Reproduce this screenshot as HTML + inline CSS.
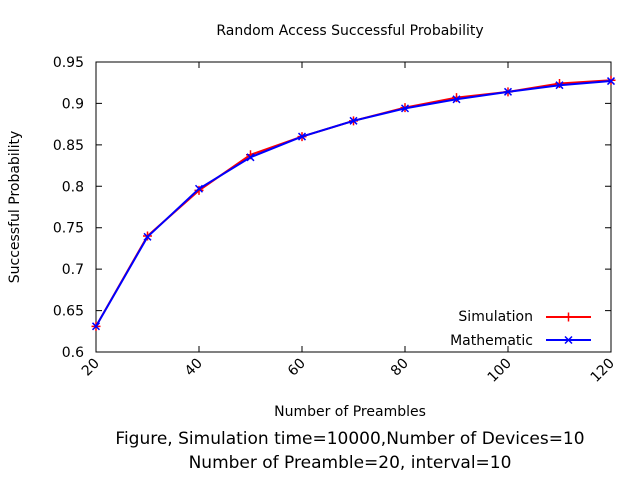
<!DOCTYPE html>
<html><head><meta charset="utf-8"><style>
body{margin:0;background:#fff;width:640px;height:480px;overflow:hidden}
text{font-family:"DejaVu Sans","Liberation Sans",sans-serif;fill:#000}
</style></head><body>
<svg id="chart" width="640" height="480" xmlns="http://www.w3.org/2000/svg">
<text x="350" y="35" font-size="14" text-anchor="middle">Random Access Successful Probability</text>
<rect x="96" y="62" width="515" height="290" fill="none" stroke="#000" stroke-width="1"/>
<g id="axes"></g>
<g id="series"></g>
<text x="350" y="416" font-size="14" text-anchor="middle">Number of Preambles</text>
<text transform="translate(19,207) rotate(-90)" font-size="14" text-anchor="middle">Successful Probability</text>
<text x="350" y="444" font-size="17" text-anchor="middle">Figure, Simulation time=10000,Number of Devices=10</text>
<text x="350" y="468" font-size="17" text-anchor="middle">Number of Preamble=20, interval=10</text>
<g>
<text x="533" y="321" font-size="14" text-anchor="end">Simulation</text>
<line x1="546" y1="317" x2="591" y2="317" stroke="#f00" stroke-width="2"/>
<path d="M564 317h9M568.5 312.5v9" stroke="#f00" stroke-width="1.5"/>
<text x="533" y="345" font-size="14" text-anchor="end">Mathematic</text>
<line x1="546" y1="340" x2="591" y2="340" stroke="#00f" stroke-width="2"/>
<path d="M565 336.5l7 7M572 336.5l-7 7" stroke="#00f" stroke-width="1.5"/>
</g>
</svg>
<script>
const categories=[20,30,40,50,60,70,80,90,100,110,120];
const simulation=[0.631,0.740,0.795,0.838,0.860,0.879,0.895,0.907,0.914,0.924,0.928];
const mathematic=[0.631,0.739,0.797,0.835,0.860,0.879,0.894,0.905,0.914,0.922,0.927];
const xTicks=[20,40,60,80,100,120];
const yTicks=[0.6,0.65,0.7,0.75,0.8,0.85,0.9,0.95];
const yLabels=["0.6","0.65","0.7","0.75","0.8","0.85","0.9","0.95"];
const NS="http://www.w3.org/2000/svg";
const X=v=>96+(v-20)/100*515;
const Y=v=>352-(v-0.6)/0.35*290;
const axes=document.getElementById('axes'),series=document.getElementById('series');
function mk(t,a,p){const e=document.createElementNS(NS,t);for(const k in a)e.setAttribute(k,a[k]);p.appendChild(e);return e;}
yTicks.forEach((v,i)=>{
 const y=Y(v);
 const t=mk('path',{d:`M96 ${y}h6M611 ${y}h-6`,stroke:'#000'},axes);
 
 
 const l=mk('text',{x:84,y:y+5,'font-size':14,'text-anchor':'end'},axes);l.textContent=yLabels[i];
 
 
});
xTicks.forEach(v=>{
 const x=X(v);
 const t=mk('path',{d:`M${x} 352v-6M${x} 62v6`,stroke:'#000'},axes);
 
 
 const l=mk('text',{transform:`translate(${x+4},${364}) rotate(-45)`,'font-size':14,'text-anchor':'end'},axes);l.textContent=v;
 
 
});
function draw(vals,color,name,plus){
 const pts=categories.map((c,i)=>[X(c),Y(vals[i])]);
 const p=mk('polyline',{points:pts.map(q=>q.join(',')).join(' '),fill:'none',stroke:color,'stroke-width':2},series);
 
 
 pts.forEach(([x,y])=>{
  const m=mk('path',{d:plus?`M${x-4.5} ${y}h9M${x} ${y-4.5}v9`:`M${x-3.5} ${y-3.5}l7 7M${x+3.5} ${y-3.5}l-7 7`,stroke:color,'stroke-width':1.5},series);
  
  
 });
}
draw(simulation,'#f00','simulation',true);
draw(mathematic,'#00f','mathematic',false);
</script>
</body></html>
